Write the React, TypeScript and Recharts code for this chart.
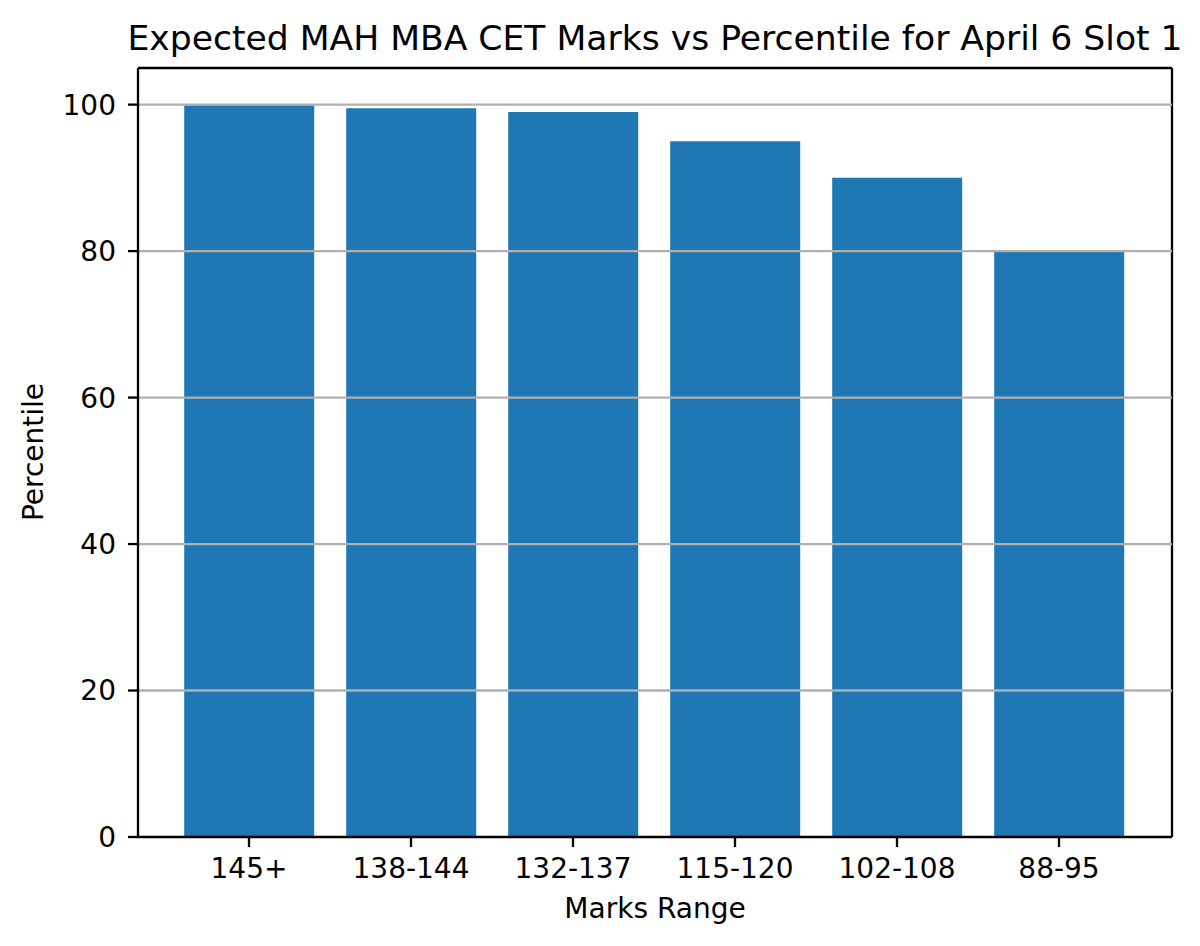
import React from 'react';
import { BarChart, Bar, XAxis, YAxis, CartesianGrid, ReferenceLine, Customized } from 'recharts';

const ranges = ['145+', '138-144', '132-137', '115-120', '102-108', '88-95'];
const percentiles = [99.9, 99.5, 99, 95, 90, 80];
const yTicks = [0, 20, 40, 60, 80, 100];

const data = ranges.map((r, i) => ({ range: r, percentile: percentiles[i] }));

const FONT = '"DejaVu Sans", sans-serif';
const LW = 2.3;

const Texts = () => (
  <g fontFamily={FONT} fill="#000">
    <text x={647} y={42} fontSize={34.6} textAnchor="middle">
      Expected MAH MBA CET Marks vs Percentile for April 6 Slot 1
    </text>
    <text x={647} y={910} fontSize={28} textAnchor="middle">
      Marks Range
    </text>
    <text x={35} y={444} fontSize={28} textAnchor="middle" transform="rotate(-90, 35, 444)">
      Percentile
    </text>
  </g>
);

export default function App() {
  const tickStyle = { fontSize: 28, fill: '#000', fontFamily: FONT };
  return (
    <div style={{ fontFamily: FONT }}>
      <BarChart
        width={1184}
        height={930}
        data={data}
        margin={{ top: 60, right: 20, bottom: 41, left: 0 }}
        barCategoryGap="10%"
      >
        <CartesianGrid
          stroke="#000"
          strokeWidth={LW}
          horizontalCoordinatesGenerator={({ offset }: any) => [offset.top]}
          verticalCoordinatesGenerator={({ offset }: any) => [offset.left + offset.width]}
        />
        <XAxis
          dataKey="range"
          type="category"
          interval={0}
          padding={{ left: 30, right: 32 }}
          height={60}
          tickSize={10}
          tickMargin={11}
          tick={tickStyle}
          axisLine={{ stroke: '#000', strokeWidth: LW }}
          tickLine={{ stroke: '#000', strokeWidth: LW }}
        />
        <YAxis
          domain={[0, 105]}
          ticks={yTicks}
          width={130}
          tickSize={10}
          tickMargin={12}
          tick={tickStyle}
          axisLine={{ stroke: '#000', strokeWidth: LW }}
          tickLine={{ stroke: '#000', strokeWidth: LW }}
        />
        <Bar dataKey="percentile" fill="#1f77b4" isAnimationActive={false} />
        {yTicks
          .filter((t) => t > 0)
          .map((t) => (
            <ReferenceLine key={t} y={t} stroke="#b0b0b0" strokeWidth={LW} />
          ))}
        <Customized component={<Texts />} />
      </BarChart>
    </div>
  );
}
